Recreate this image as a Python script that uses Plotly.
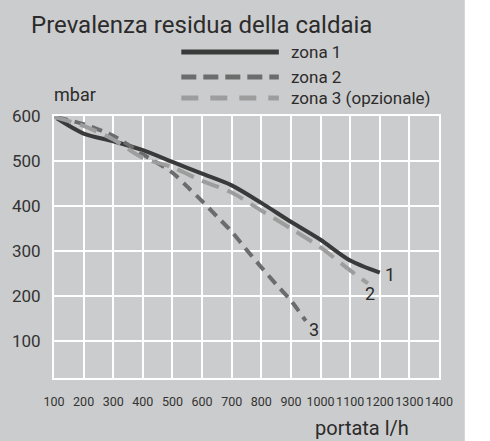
import plotly.graph_objects as go

# ---- data ----
zona1_x = [110, 200, 300, 400, 500, 600, 700, 800, 900, 1000, 1100, 1200]
zona1_y = [595, 561, 544, 524, 498, 472, 446, 407, 365, 325, 279, 252]

zona2_x = [110, 200, 300, 400, 500, 550, 600, 650, 700, 750, 800, 850, 900, 950]
zona2_y = [597, 582, 556, 515, 474, 443, 411, 377, 343, 303, 264, 226, 190, 145]

zona3_x = [100, 200, 300, 400, 500, 600, 700, 800, 900, 1000, 1100, 1160]
zona3_y = [598, 578, 548, 507, 486, 456, 430, 390, 350, 308, 257, 228]

series_names = ["zona 1", "zona 2", "zona 3 (opzionale)"]

curve_labels = ["1", "2", "3"]
curve_label_x = [1235, 1166, 977]
curve_label_y = [247, 206, 125]

x_ticks = list(range(100, 1401, 100))
y_ticks = [100, 200, 300, 400, 500, 600]

title_text = "Prevalenza residua della caldaia"
y_title = "mbar"
x_title = "portata l/h"

BG = "#cbcccd"
TXT = "#2b2b2b"
FONT = "Roboto, sans-serif"

colors = ["#3a3a3a", "#6c6c6c", "#9d9d9d"]
curve_dash = ["solid", "11px,7px", "18px,9px"]
legend_dash = ["solid", "15px,7px", "17px,12px"]

fig = go.Figure()
for name, xs, ys, c, d in zip(series_names, [zona1_x, zona2_x, zona3_x],
                              [zona1_y, zona2_y, zona3_y], colors, curve_dash):
    fig.add_trace(go.Scatter(x=xs, y=ys, mode="lines", name=name, showlegend=False,
                             hoverinfo="skip",
                             line=dict(color=c, width=4, dash=d, shape="spline", smoothing=0.8)))

for t, xx, yy in zip(curve_labels, curve_label_x, curve_label_y):
    fig.add_annotation(x=xx, y=yy, text=t, showarrow=False, xref="x", yref="y",
                       font=dict(family=FONT, size=18, color=TXT))

# legend drawn as line samples + labels (long samples as in the original)
leg_y = [1.2443, 1.1489, 1.0687]
for name, c, d, ly in zip(series_names, colors, legend_dash, leg_y):
    fig.add_shape(type="line", xref="paper", yref="paper", x0=0.3307, x1=0.584, y0=ly, y1=ly,
                  line=dict(color=c, width=5, dash=d))
    fig.add_annotation(x=0.610, y=ly, xref="paper", yref="paper", text=name, showarrow=False,
                       xanchor="left", yanchor="middle",
                       font=dict(family=FONT, size=17, color=TXT))

fig.add_annotation(x=-0.0646, y=1.347, xref="paper", yref="paper", text=title_text,
                   showarrow=False, xanchor="left", yanchor="middle",
                   font=dict(family=FONT, size=24, color=TXT))
fig.add_annotation(x=-0.005, y=1.082, xref="paper", yref="paper", text=y_title,
                   showarrow=False, xanchor="left", yanchor="middle",
                   font=dict(family=FONT, size=18, color=TXT))
fig.add_annotation(x=0.674, y=-0.191, xref="paper", yref="paper", text=x_title,
                   showarrow=False, xanchor="left", yanchor="middle",
                   font=dict(family=FONT, size=20, color=TXT))

# white area right of the grey panel
fig.add_shape(type="rect", xref="paper", yref="paper", x0=1.067, x1=1.3, y0=-0.5, y1=1.7,
              fillcolor="white", line=dict(width=0), layer="above")

fig.update_layout(
    width=490, height=441,
    margin=dict(l=52, r=51, t=116, b=63),
    paper_bgcolor=BG, plot_bgcolor=BG,
    showlegend=False,
    hovermode=False,
    xaxis=dict(range=[100, 1400], tickvals=x_ticks, ticktext=[str(v) for v in x_ticks],
               tickangle=0, showgrid=True, gridcolor="white", gridwidth=2,
               showline=True, linecolor="white", linewidth=2, mirror=True,
               zeroline=False, ticks="", ticklabelstandoff=11,
               tickfont=dict(family=FONT, size=12.5, color="#333333")),
    yaxis=dict(range=[18, 600], tickvals=y_ticks, showgrid=True, gridcolor="white", gridwidth=2,
               showline=True, linecolor="white", linewidth=2, mirror=True,
               zeroline=False, ticks="", ticklabelstandoff=8,
               tickfont=dict(family=FONT, size=17, color="#333333")),
)

fig.write_html("out.html", config={"displayModeBar": False},
               post_script="document.body.style.margin='0';document.body.style.overflow='hidden';")
